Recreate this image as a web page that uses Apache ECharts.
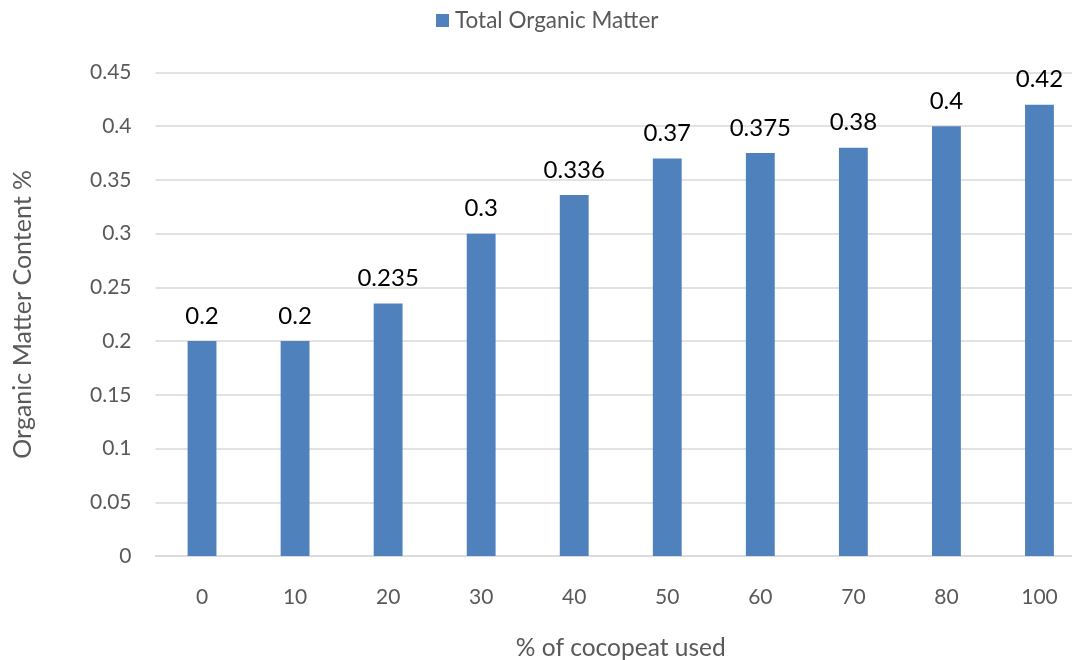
<!DOCTYPE html>
<html>
<head>
<meta charset="utf-8">
<script src="https://cdn.jsdelivr.net/npm/echarts@6/dist/echarts.min.js"></script>
<style>
  html, body { margin: 0; padding: 0; background: #fff; overflow: hidden; width: 1072px; height: 660px; }
  /* the plot runs slightly past the right edge of the page */
  #chart { width: 1086px; height: 660px; }
</style>
</head>
<body>
<div id="chart"></div>
<script>
// % of cocopeat in the mix
const categories = ['0', '10', '20', '30', '40', '50', '60', '70', '80', '100'];
// Total organic matter content (%) for each mix
const organicMatter = [0.2, 0.2, 0.235, 0.3, 0.336, 0.37, 0.375, 0.38, 0.4, 0.42];
const seriesName = 'Total Organic Matter';

const FONT = 'Lato, "Open Sans", sans-serif';
const GREY = '#595959';

const chart = echarts.init(document.getElementById('chart'));
chart.setOption({
  animation: false,
  textStyle: { fontFamily: FONT },
  legend: {
    top: 9,
    left: 436,
    padding: 0,
    itemWidth: 13,
    itemHeight: 13,
    itemGap: 6,
    icon: 'rect',
    data: [seriesName],
    textStyle: { color: GREY, fontSize: 22.5, fontFamily: FONT, padding: [0, 0, 0, 1] }
  },
  grid: {
    left: 155.5,
    top: 72.5,
    right: 0,
    height: 483.5,
    containLabel: false,
    outerBoundsMode: 'none'
  },
  xAxis: {
    type: 'category',
    data: categories,
    name: '% of cocopeat used',
    nameLocation: 'middle',
    nameGap: 80,
    nameTextStyle: { color: GREY, fontSize: 24.5, fontFamily: FONT },
    axisLine: { lineStyle: { color: '#d9d9d9', width: 1.5 } },
    axisTick: { show: false },
    axisLabel: { color: GREY, fontSize: 21, margin: 31, fontFamily: FONT }
  },
  yAxis: {
    type: 'value',
    min: 0,
    max: 0.45,
    interval: 0.05,
    name: 'Organic Matter Content %',
    nameLocation: 'middle',
    nameGap: 120,
    nameTextStyle: { color: GREY, fontSize: 25, fontFamily: FONT },
    axisLine: { show: false },
    axisTick: { show: false },
    splitLine: { lineStyle: { color: '#d9d9d9', width: 1.5 } },
    axisLabel: {
      color: GREY,
      fontSize: 21,
      margin: 24,
      fontFamily: FONT,
      formatter: v => String(parseFloat(v.toFixed(2)))
    }
  },
  series: [{
    name: seriesName,
    type: 'bar',
    data: organicMatter,
    barWidth: '31%',
    itemStyle: { color: '#4F81BD' },
    label: {
      show: true,
      position: 'top',
      distance: 13,
      color: '#000',
      fontSize: 24,
      fontFamily: FONT,
      formatter: p => String(p.value)
    }
  }]
});
</script>
</body>
</html>
